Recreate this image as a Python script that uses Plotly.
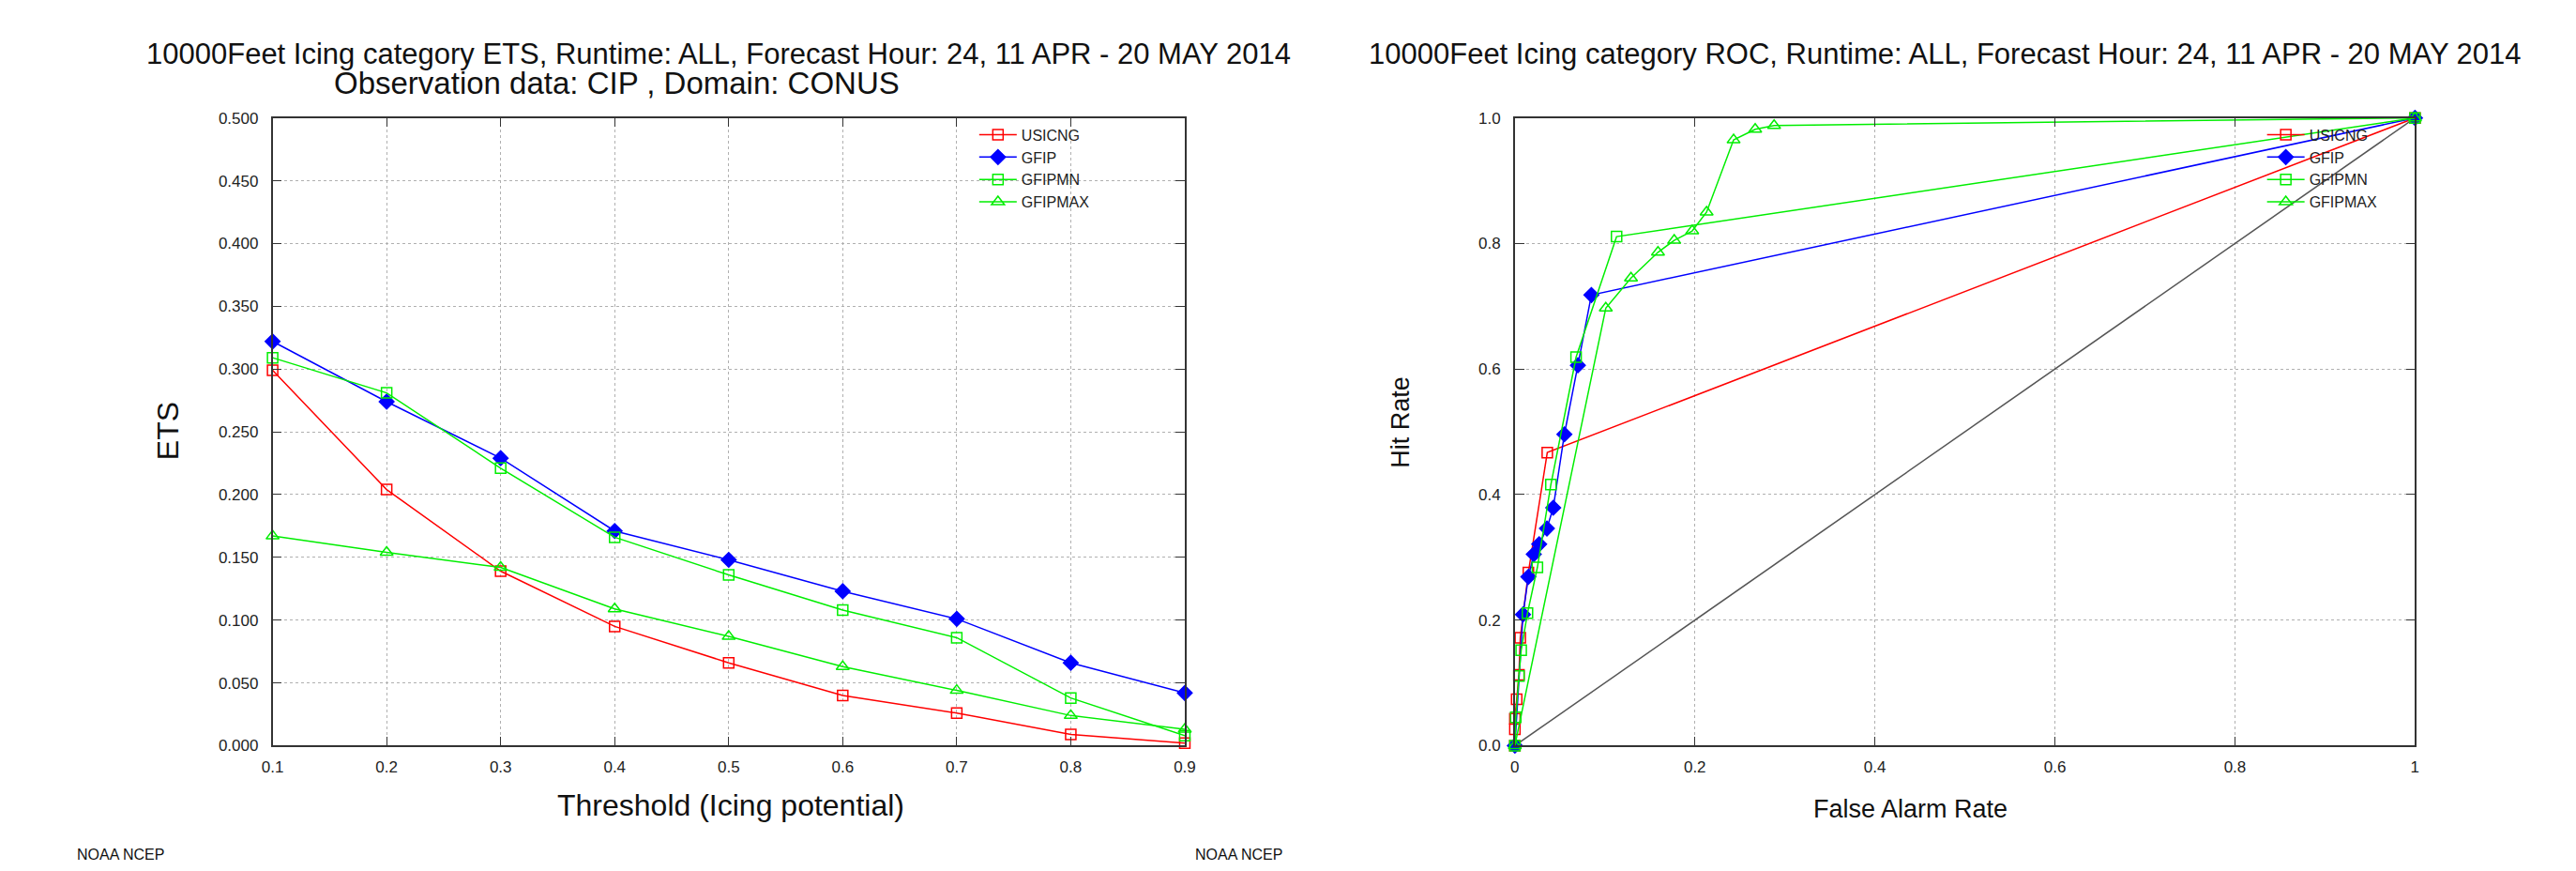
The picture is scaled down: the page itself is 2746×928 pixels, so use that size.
import plotly.graph_objects as go

# ETS by threshold
thresholds = [0.1, 0.2, 0.3, 0.4, 0.5, 0.6, 0.7, 0.8, 0.9]
ets_usicng = [0.299, 0.204, 0.139, 0.095, 0.066, 0.040, 0.026, 0.009, 0.002]
ets_gfip = [0.322, 0.274, 0.229, 0.171, 0.148, 0.123, 0.101, 0.066, 0.042]
ets_gfipmn = [0.309, 0.281, 0.221, 0.166, 0.136, 0.108, 0.086, 0.038, 0.008]
ets_gfipmax = [0.167, 0.154, 0.142, 0.109, 0.087, 0.063, 0.044, 0.024, 0.013]

# ROC points (false alarm rate, hit rate)
far_usicng = [0, 0, 0, 0.002, 0.0045, 0.006, 0.015, 0.036, 1.0]
hit_usicng = [0, 0.026, 0.043, 0.074, 0.113, 0.172, 0.276, 0.467, 1.0]
far_gfip = [0, 0.009, 0.015, 0.021, 0.027, 0.0356, 0.0426, 0.055, 0.070, 0.085, 1.0]
hit_gfip = [0, 0.209, 0.269, 0.305, 0.321, 0.346, 0.379, 0.496, 0.606, 0.718, 1.0]
far_gfipmn = [0, 0.001, 0.0045, 0.007, 0.014, 0.025, 0.040, 0.068, 0.113, 1.0]
hit_gfipmn = [0, 0.045, 0.111, 0.152, 0.211, 0.284, 0.416, 0.619, 0.811, 1.0]
far_gfipmax = [0, 0.101, 0.129, 0.159, 0.177, 0.197, 0.213, 0.243, 0.267, 0.288, 1.0]
hit_gfipmax = [0, 0.697, 0.745, 0.786, 0.805, 0.820, 0.850, 0.965, 0.982, 0.988, 1.0]
diag = [0, 1]

roc_ticks = [0, 0.2, 0.4, 0.6, 0.8, 1.0]
roc_xlabels = ["0", "0.2", "0.4", "0.6", "0.8", "1"]

# the page body has an 8px margin: shrink the figure so it fits and shift positions
OFF = 8
W, H = 2746 - 2 * OFF, 928 - 2 * OFF
FONT = "Liberation Sans, Arial, sans-serif"
RED, BLUE, GREEN = "#ff0000", "#0000ff", "#00ee00"


def px(x):
    return (x - OFF) / W


def py(y):
    return (H - (y - OFF)) / H


series = [
    ("USICNG", RED, "square-open", 11),
    ("GFIP", BLUE, "diamond", 12),
    ("GFIPMN", GREEN, "square-open", 11),
    ("GFIPMAX", GREEN, "triangle-up-open", 12),
]
ets_data = [ets_usicng, ets_gfip, ets_gfipmn, ets_gfipmax]
roc_data = [(far_usicng, hit_usicng), (far_gfip, hit_gfip),
            (far_gfipmn, hit_gfipmn), (far_gfipmax, hit_gfipmax)]

fig = go.Figure()

for (name, color, sym, sz), ys in zip(series, ets_data):
    fig.add_trace(go.Scatter(
        x=thresholds, y=ys, name=name, mode="lines+markers",
        line=dict(color=color, width=1.5),
        marker=dict(symbol=sym, size=sz, color=color, line=dict(color=color, width=1.5)),
        xaxis="x", yaxis="y", legend="legend", cliponaxis=False,
    ))

fig.add_trace(go.Scatter(
    x=diag, y=diag, mode="lines", line=dict(color="#555555", width=1.5),
    xaxis="x2", yaxis="y2", showlegend=False, hoverinfo="skip",
))

for (name, color, sym, sz), (xs, ys) in zip(series, roc_data):
    fig.add_trace(go.Scatter(
        x=xs, y=ys, name=name, mode="lines+markers",
        line=dict(color=color, width=1.5),
        marker=dict(symbol=sym, size=sz, color=color, line=dict(color=color, width=1.5)),
        xaxis="x2", yaxis="y2", legend="legend2", cliponaxis=False,
    ))

ydom = [py(802), py(119)]
axis_style = dict(
    showline=True, linecolor="#333333", linewidth=1.5, mirror="ticks",
    ticks="inside", ticklen=10, tickcolor="#333333",
    showgrid=True, gridcolor="#b0b0b0", griddash="dot", gridwidth=1,
    zeroline=False, tickfont=dict(size=17, color="#222222"),
)

fig.update_layout(
    width=W, height=H,
    margin=dict(l=0, r=0, t=0, b=0),
    paper_bgcolor="white", plot_bgcolor="white",
    font=dict(family=FONT, color="#222222"),
    xaxis=dict(domain=[px(281), px(1262)], range=[0.1, 0.9], tickvals=thresholds,
               tickformat=".1f", anchor="y", ticklabelstandoff=6, **axis_style),
    yaxis=dict(domain=ydom, range=[0, 0.5], dtick=0.05, tickformat=".3f",
               anchor="x", ticklabelstandoff=10, **axis_style),
    xaxis2=dict(domain=[px(1617), px(2585)], range=[0, 1], tickvals=roc_ticks,
                ticktext=roc_xlabels, anchor="y2", ticklabelstandoff=6, **axis_style),
    yaxis2=dict(domain=ydom, range=[0, 1], tickvals=roc_ticks, tickformat=".1f",
                anchor="x2", ticklabelstandoff=10, **axis_style),
    legend=dict(x=px(1165), y=py(120), xanchor="right", yanchor="top",
                bgcolor="rgba(0,0,0,0)", font=dict(size=16), itemwidth=40,
                tracegroupgap=0),
    legend2=dict(x=px(2550), y=py(120), xanchor="right", yanchor="top",
                 bgcolor="rgba(0,0,0,0)", font=dict(size=16), itemwidth=40,
                 tracegroupgap=0),
)


def label(text, x, y, size, angle=0, xanchor="center"):
    fig.add_annotation(text=text, x=px(x), y=py(y), xref="paper", yref="paper",
                       showarrow=False, font=dict(size=size, color="#111111"),
                       textangle=angle, xanchor=xanchor, yanchor="middle")


label("10000Feet Icing category ETS, Runtime: ALL, Forecast Hour: 24, 11 APR - 20 MAY 2014", 761, 49, 31)
label("Observation data: CIP , Domain: CONUS", 651, 81, 33)
label("10000Feet Icing category ROC, Runtime: ALL, Forecast Hour: 24, 11 APR - 20 MAY 2014", 2080, 49, 31)
label("ETS", 168, 460, 32, angle=-90)
label("Threshold (Icing potential)", 774, 867, 32)
label("Hit Rate", 1494, 450, 27, angle=-90)
label("False Alarm Rate", 2042, 871, 27)
label("NOAA NCEP", 69, 921, 16, xanchor="left")
label("NOAA NCEP", 1271, 921, 16, xanchor="left")

fig.write_html("out.html")
